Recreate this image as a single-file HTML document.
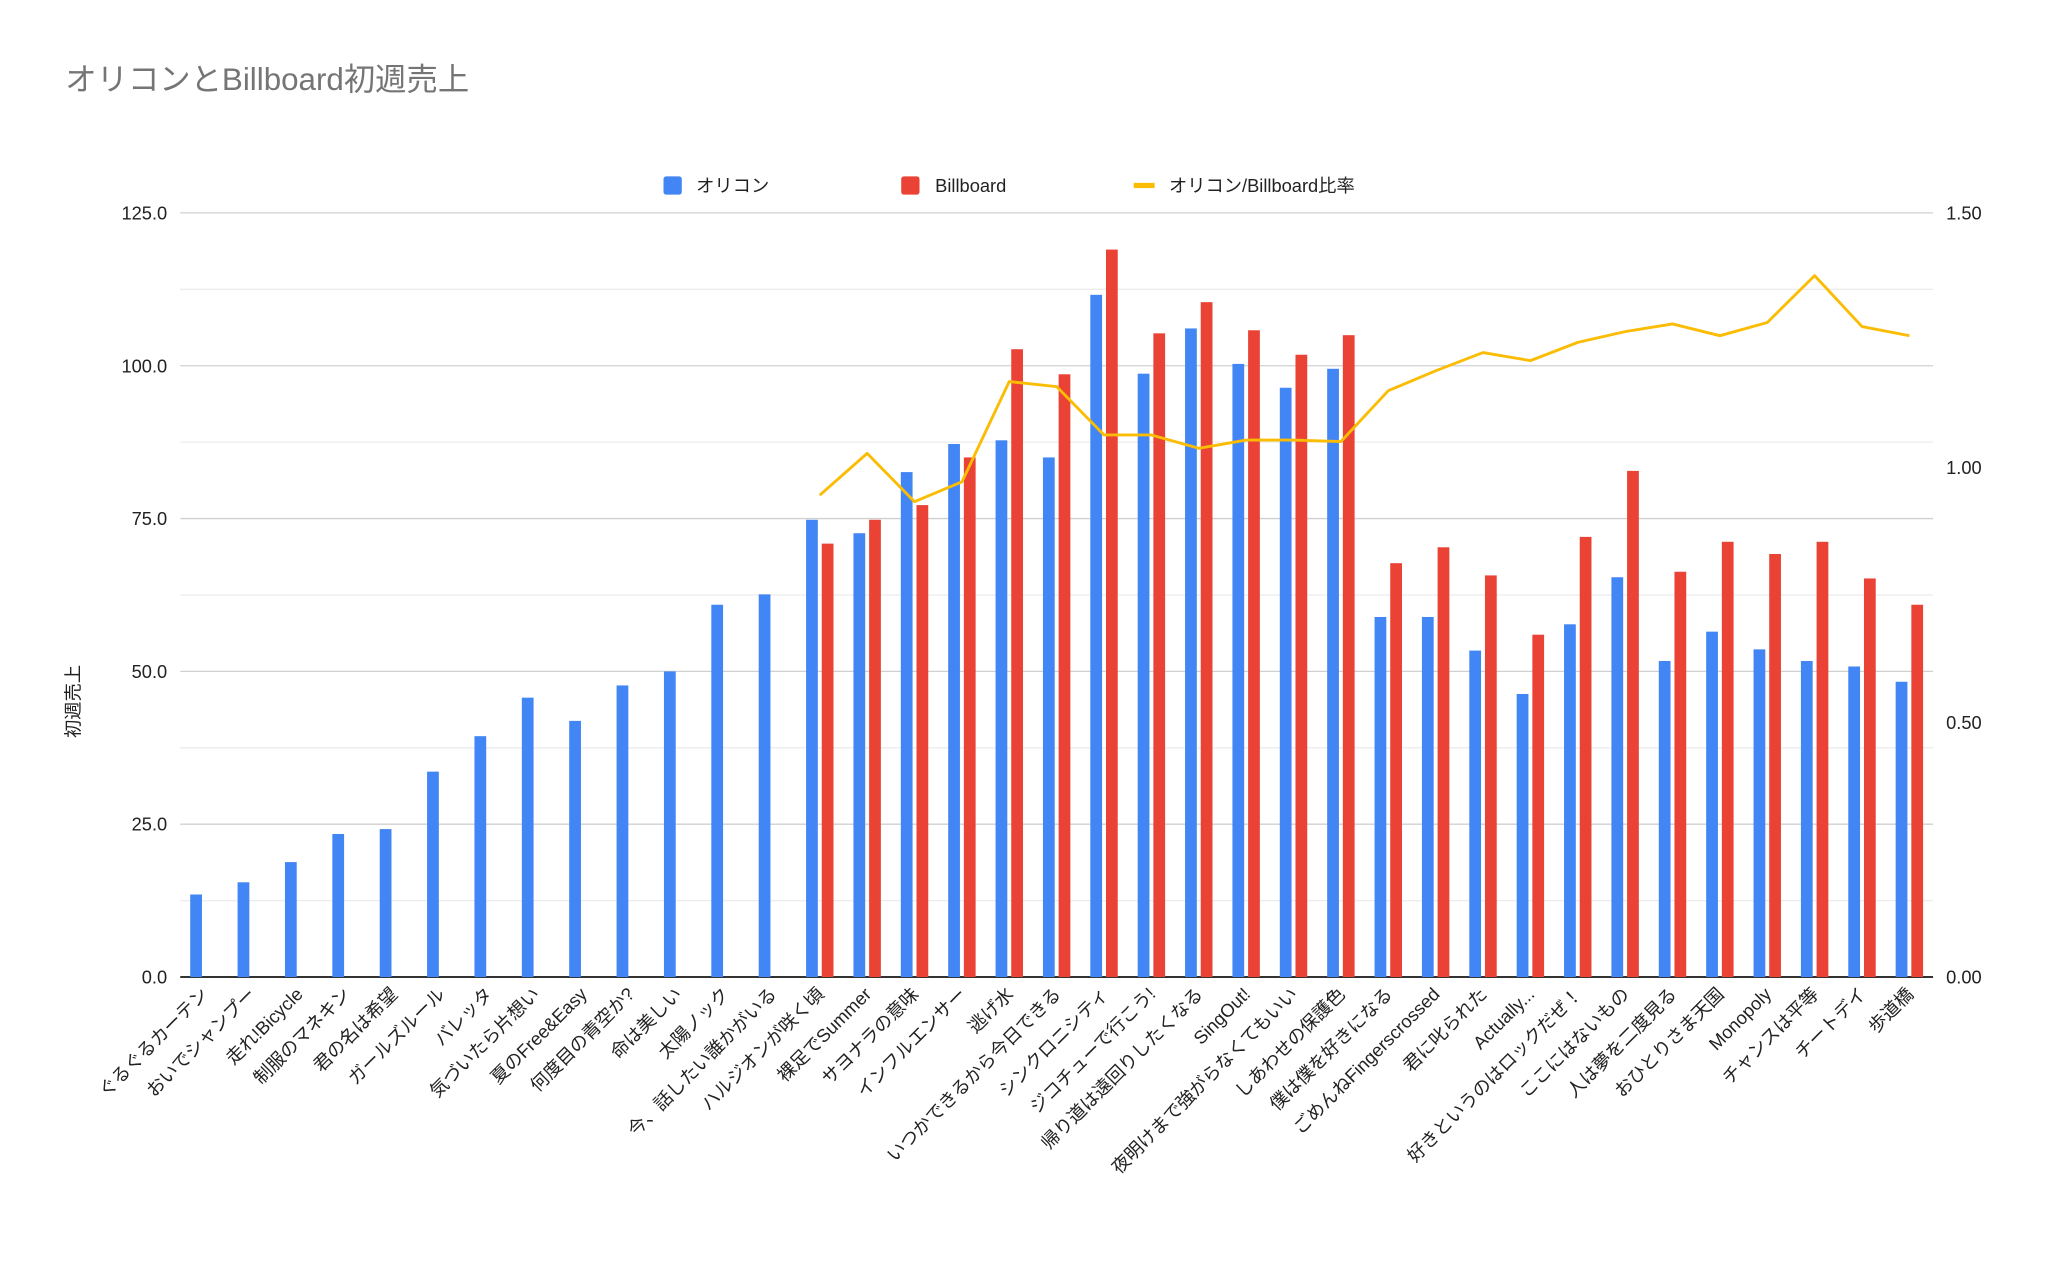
<!DOCTYPE html>
<html><head><meta charset="utf-8"><style>
html,body{margin:0;padding:0;background:#fff;}
svg{display:block;font-family:"Liberation Sans","Noto Sans CJK JP",sans-serif;}
</style></head><body>
<svg id="chart" width="2048" height="1267" viewBox="0 0 1568 970" preserveAspectRatio="none" xmlns="http://www.w3.org/2000/svg">
<rect width="1568" height="970" fill="#fff"/>
<text x="50" y="69" font-size="24" fill="#757575">オリコンとBillboard初週売上</text>
<g>
<g><rect x="508" y="135" width="14" height="14" rx="2" fill="#4285f4"/><text x="533" y="147" font-size="14" fill="#222">オリコン</text></g>
<g><rect x="690" y="135" width="14" height="14" rx="2" fill="#ea4335"/><text x="716" y="147" font-size="14" fill="#222">Billboard</text></g>
<g><rect x="868" y="140" width="16" height="4" fill="#fbbc04"/><text x="895" y="147" font-size="14" fill="#222">オリコン/Billboard比率</text></g>
</g>
<text transform="translate(61,537) rotate(-90)" text-anchor="middle" font-size="14" fill="#222">初週売上</text>
<g id="grid"></g><g id="bars"></g><g id="line"></g><g id="labels"></g>
</svg>
<script>
const categories=["ぐるぐるカーテン","おいでシャンプー","走れ!Bicycle","制服のマネキン","君の名は希望","ガールズルール","バレッタ","気づいたら片想い","夏のFree&Easy","何度目の青空か?","命は美しい","太陽ノック","今、話したい誰かがいる","ハルジオンが咲く頃","裸足でSummer","サヨナラの意味","インフルエンサー","逃げ水","いつかできるから今日できる","シンクロニシティ","ジコチューで行こう!","帰り道は遠回りしたくなる","SingOut!","夜明けまで強がらなくてもいい","しあわせの保護色","僕は僕を好きになる","ごめんねFingerscrossed","君に叱られた","Actually...","好きというのはロックだぜ！","ここにはないもの","人は夢を二度見る","おひとりさま天国","Monopoly","チャンスは平等","チートデイ","歩道橋"];
const oricon=[13.5,15.5,18.8,23.4,24.2,33.6,39.4,45.7,41.9,47.7,50.0,60.9,62.6,74.8,72.6,82.6,87.2,87.8,85.0,111.6,98.7,106.1,100.3,96.4,99.5,58.9,58.9,53.4,46.3,57.7,65.4,51.7,56.5,53.6,51.7,50.8,48.3];
const billboard=[null,null,null,null,null,null,null,null,null,null,null,null,null,70.9,74.8,77.2,85.0,102.7,98.6,119.0,105.3,110.4,105.8,101.8,105.0,67.7,70.3,65.7,56.0,72.0,82.8,66.3,71.2,69.2,71.2,65.2,60.9];
const ratio=[null,null,null,null,null,null,null,null,null,null,null,null,null,0.946,1.028,0.933,0.972,1.169,1.159,1.064,1.064,1.038,1.054,1.054,1.051,1.151,1.19,1.226,1.21,1.246,1.267,1.282,1.259,1.285,1.377,1.277,1.259];
const leftTicks=["0.0","25.0","50.0","75.0","100.0","125.0"];
const rightTicks=["0.00","0.50","1.00","1.50"];
const NS="http://www.w3.org/2000/svg";
const X0=138,X1=1480,Y0=748,Y1=163,LMAX=125,RMAX=1.5;
const bw=(X1-X0)/categories.length;
const yL=v=>Y0-(v/LMAX)*(Y0-Y1);
const yR=v=>Y0-(v/RMAX)*(Y0-Y1);
const xC=i=>X0+(i+0.5)*bw;
function mk(tag,attrs,parent){const e=document.createElementNS(NS,tag);for(const k in attrs)e.setAttribute(k,attrs[k]);parent.appendChild(e);return e;}
const grid=document.getElementById('grid');
for(let k=0;k<=10;k++){const v=k*12.5;const y=yL(v);
 const l=mk('line',{x1:X0,x2:X1,y1:y,y2:y,stroke:k===0?'#333':(k%2?'#ececec':'#d0d0d0'),'stroke-width':k===0?1.5:1},grid);
 
 }
leftTicks.forEach(t=>{const e=mk('text',{x:128,y:yL(parseFloat(t))+5,'text-anchor':'end','font-size':14,fill:'#222'},grid);e.textContent=t;
 
 });
rightTicks.forEach(t=>{const e=mk('text',{x:1490,y:yR(parseFloat(t))+5,'text-anchor':'start','font-size':14,fill:'#222'},grid);e.textContent=t;
 
 });
const bars=document.getElementById('bars');
const W=9;
categories.forEach((c,i)=>{
 const cx=xC(i);
 if(oricon[i]!=null){const r=mk('rect',{x:cx-6-W/2,y:yL(oricon[i]),width:W,height:Y0-yL(oricon[i]),fill:'#4285f4'},bars);
  
  }
 if(billboard[i]!=null){const r=mk('rect',{x:cx+6-W/2,y:yL(billboard[i]),width:W,height:Y0-yL(billboard[i]),fill:'#ea4335'},bars);
  
  }
});
const pts=[];ratio.forEach((v,i)=>{if(v!=null)pts.push(xC(i).toFixed(1)+','+yR(v).toFixed(1));});
const pl=mk('polyline',{points:pts.join(' '),fill:'none',stroke:'#fbbc04','stroke-width':2.2,'stroke-linejoin':'round'},document.getElementById('line'));


const lab=document.getElementById('labels');
categories.forEach((c,i)=>{const x=xC(i)+4,y=762;
 const t=mk('text',{x:x,y:y,transform:`rotate(-45 ${x} ${y})`,'text-anchor':'end','font-size':14,fill:'#222'},lab);t.textContent=c;
 
 });
</script>
</body></html>
